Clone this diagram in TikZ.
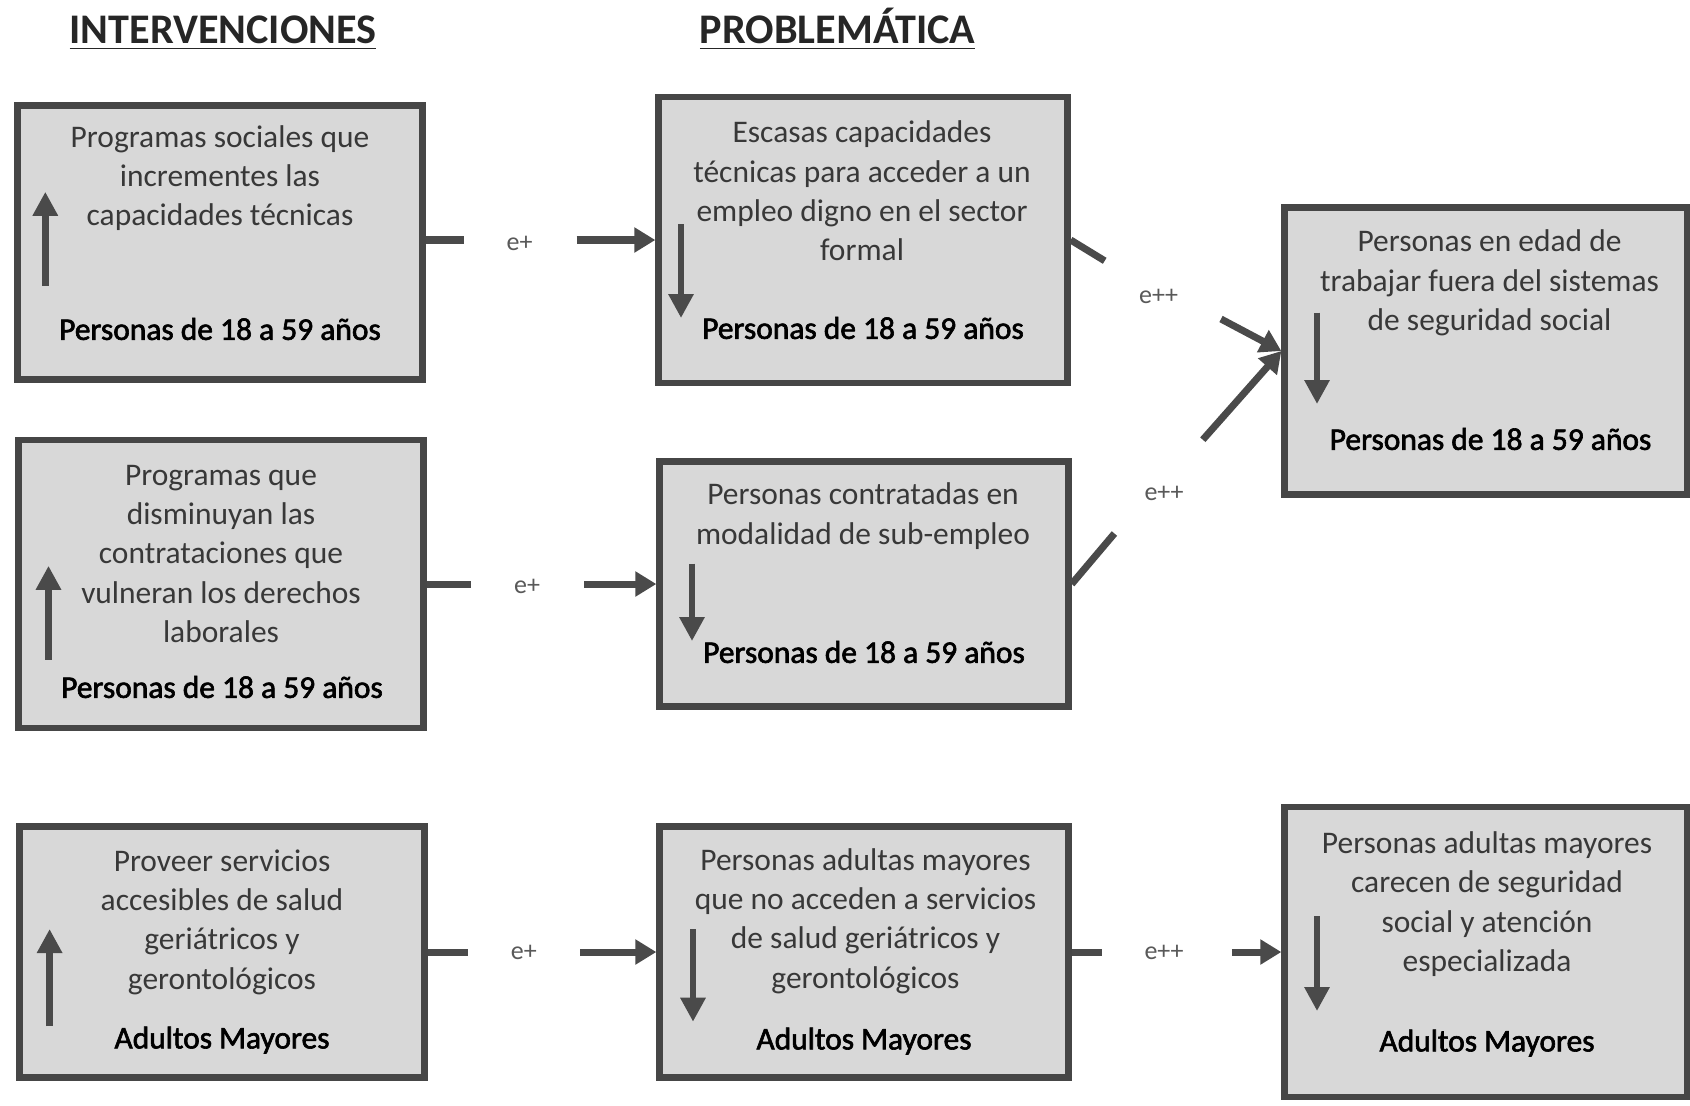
\documentclass[tikz,border=0pt]{standalone}
\usepackage{fontspec}
\setmainfont{Carlito}
\newfontfamily\darkfont{Carlito}[FakeBold=2]
\usepackage{xcolor}
\usetikzlibrary{arrows.meta}

\definecolor{boxgray}{HTML}{D8D8D8}
\definecolor{edgegray}{HTML}{464646}
\definecolor{txtgray}{HTML}{383838}
\definecolor{linegray}{HTML}{4A4A4A}

\begin{document}
\begin{tikzpicture}[
  panel/.style={
    rectangle,
    draw=edgegray,
    fill=boxgray,
    line width=1.8pt,
    minimum width=4.05cm,
    inner sep=0pt
  },
  desc/.style={
    font=\fontsize{8.95}{11.2}\selectfont,
    text=txtgray,
    align=center
  },
  target/.style={
    font=\fontsize{8.95}{11.2}\selectfont\darkfont,
    text=black
  },
  heading/.style={
    font=\fontsize{12}{14}\selectfont\bfseries,
    text=black!85,
    anchor=base
  },
  effect/.style={
    font=\fontsize{7.4}{8}\selectfont,
    text=black!65
  },
  trend/.style={
    -{Triangle[width=0.24cm, length=0.24cm]},
    line width=1.9pt,
    draw=linegray
  },
  flow/.style={
    -{Triangle[width=0.24cm, length=0.21cm]},
    line width=2pt,
    draw=linegray
  },
  link/.style={
    line width=2pt,
    draw=linegray
  }
]
\useasboundingbox (0,0) rectangle (16.9,-11.05);

% Headings
\node[heading] (hint) at (2.23,-0.43) {\underline{INTERVENCIONES}};
\node[heading] (hprob) at (8.375,-0.43) {\underline{PROBLEMÁTICA}};

% Interventions
\node[panel, minimum height=2.74cm] (a1) at (2.20,-2.425) {};
\node[panel, minimum height=2.88cm] (a2) at (2.21,-5.84) {};
\node[panel, minimum height=2.51cm] (a3) at (2.22,-9.52) {};

% Problems
\node[panel, minimum width=4.09cm, minimum height=2.86cm] (p1) at (8.63,-2.40) {};
\node[panel, minimum width=4.09cm, minimum height=2.45cm] (p2) at (8.64,-5.84) {};
\node[panel, minimum width=4.09cm, minimum height=2.51cm] (p3) at (8.64,-9.52) {};

% Effects
\node[panel, minimum width=4.03cm, minimum height=2.87cm] (r1) at (14.86,-3.51) {};
\node[panel, minimum width=4.03cm, minimum height=2.90cm] (r3) at (14.86,-9.52) {};

% Texts
\node[desc] (a1t) at (2.20,-1.78) {Programas sociales que\\incrementes las\\capacidades técnicas};
\node[target] (a1g) at (2.20,-3.29) {Personas de 18 a 59 años};
\node[desc] (a2t) at (2.21,-5.54) {Programas que\\disminuyan las\\contrataciones que\\vulneran los derechos\\laborales};
\node[target] (a2g) at (2.22,-6.87) {Personas de 18 a 59 años};
\node[desc] (a3t) at (2.22,-9.22) {Proveer servicios\\accesibles de salud\\geriátricos y\\gerontológicos};
\node[target] (a3g) at (2.22,-10.40) {Adultos Mayores};

\node[desc] (p1t) at (8.62,-1.91) {Escasas capacidades\\técnicas para acceder a un\\empleo digno en el sector\\formal};
\node[target] (p1g) at (8.63,-3.28) {Personas de 18 a 59 años};
\node[desc] (p2t) at (8.63,-5.16) {Personas contratadas en\\modalidad de sub-empleo};
\node[target] (p2g) at (8.64,-6.52) {Personas de 18 a 59 años};
\node[desc] (p3t) at (8.655,-9.21) {Personas adultas mayores\\que no acceden a servicios\\de salud geriátricos y\\gerontológicos};
\node[target] (p3g) at (8.64,-10.41) {Adultos Mayores};

\node[desc] (r1t) at (14.895,-2.83) {Personas en edad de\\trabajar fuera del sistemas\\de seguridad social};
\node[target] (r1g) at (14.905,-4.39) {Personas de 18 a 59 años};
\node[desc] (r3t) at (14.87,-9.04) {Personas adultas mayores\\carecen de seguridad\\social y atención\\especializada};
\node[target] (r3g) at (14.87,-10.43) {Adultos Mayores};

% Trend arrows
\draw[trend] (0.453,-2.856) -- (0.453,-1.918);
\draw[trend] (0.485,-6.596) -- (0.485,-5.658);
\draw[trend] (0.496,-10.26) -- (0.496,-9.29);
\draw[trend] (6.81,-2.24) -- (6.81,-3.18);
\draw[trend] (6.92,-5.637) -- (6.92,-6.41);
\draw[trend] (6.93,-9.29) -- (6.93,-10.217);
\draw[trend] (13.17,-3.126) -- (13.17,-4.04);
\draw[trend] (13.17,-9.16) -- (13.17,-10.11);

% Connections
\coordinate (a1o) at (4.635,-2.40);
\coordinate (a1i) at (5.766,-2.40);
\coordinate (a2o) at (4.71,-5.84);
\coordinate (a2i) at (5.84,-5.84);
\coordinate (a3o) at (4.678,-9.52);
\coordinate (a3i) at (5.80,-9.52);
\coordinate (p1o) at (11.047,-2.608);
\coordinate (r1a) at (12.21,-3.19);
\coordinate (p2o) at (11.144,-5.335);
\coordinate (r1b) at (12.028,-4.397);
\coordinate (p3o) at (11.015,-9.52);
\coordinate (r3i) at (12.319,-9.52);

\draw[link] (a1.east |- a1o) -- (a1o);
\draw[flow] (a1i) -- (p1.west);
\draw[link] (a2.east) -- (a2o);
\draw[flow] (a2i) -- (p2.west);
\draw[link] (a3.east) -- (a3o);
\draw[flow] (a3i) -- (p3.west);

\draw[link] (p1.east) -- (p1o);
\draw[flow] (r1a) -- (r1.west);
\draw[link] (p2.east) -- (p2o);
\draw[flow] (r1b) -- (r1.west);
\draw[link] (p3.east) -- (p3o);
\draw[flow] (r3i) -- (r3.west);

% Effect labels
\node[effect] (e1) at (5.195,-2.436) {e+};
\node[effect] (e2) at (5.27,-5.863) {e+};
\node[effect] (e3) at (5.238,-9.528) {e+};
\node[effect] (e4) at (11.586,-2.964) {e++};
\node[effect] (e5) at (11.64,-4.936) {e++};
\node[effect] (e6) at (11.64,-9.528) {e++};
\end{tikzpicture}
\end{document}
